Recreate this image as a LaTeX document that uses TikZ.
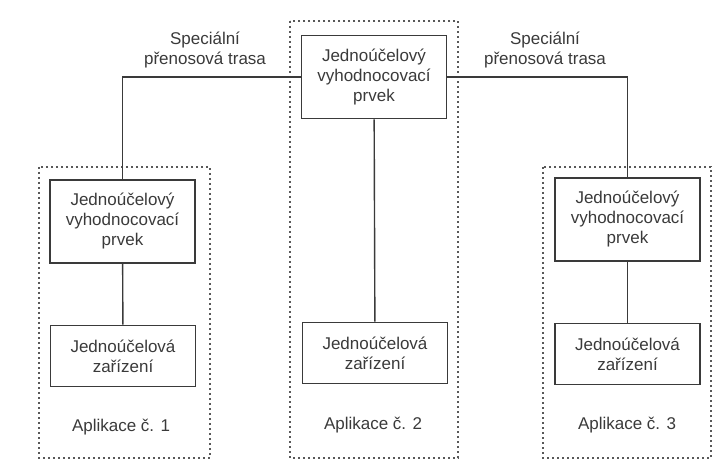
\documentclass[tikz,border=0pt]{standalone}
\usepackage{fontspec}
\setmainfont{Liberation Sans}
\usetikzlibrary{positioning}
\definecolor{ink}{HTML}{3A3A3A}
\tikzset{
  prvek/.style={draw=ink, line width=1.8pt, align=center, minimum width=145pt, minimum height=83pt, inner sep=0pt},
  zarizeni/.style={prvek, minimum height=61pt},
  aplikace/.style={draw=ink!85, line width=2pt, dash pattern=on 2pt off 3pt},
  trasa/.style={draw=ink, line width=1.4pt},
  popis/.style={align=center, inner sep=0pt}
}
\begin{document}
\begin{tikzpicture}[x=1pt, y=-1pt, font=\fontsize{17}{20}\selectfont, text=ink]
    \useasboundingbox (0,0) rectangle (718,465);
    % dotted application frames
    \draw[aplikace] (39,167) rectangle (210,458);
    \draw[aplikace] (290,21) rectangle (458,458);
    \draw[aplikace] (543,167) rectangle (711,458);
    % evaluation elements
    \node[prvek] (stred) at (374,77) {Jednoúčelový\\vyhodnocovací\\prvek};
    \node[prvek] (levy) at (122.5,221.5) {Jednoúčelový\\vyhodnocovací\\prvek};
    \node[prvek] (pravy) at (627.5,219.5) {Jednoúčelový\\vyhodnocovací\\prvek};
    % devices
    \node[zarizeni] (levyZ) at (123,356) {Jednoúčelová\\zařízení};
    \node[zarizeni] (stredZ) at (375,353) {Jednoúčelová\\zařízení};
    \node[zarizeni] (pravyZ) at (627.5,354) {Jednoúčelová\\zařízení};
    % links
    \draw[trasa] (stred.west) -| (levy.north);
    \draw[trasa] (stred.east) -| (pravy.north);
    \draw[trasa] (stred) -- (stredZ);
    \draw[trasa] (levy) -- (levyZ);
    \draw[trasa] (pravy) -- (pravyZ);
    % labels
    \node[popis] (trasaL) at (205,50) {Speciální\\přenosová trasa};
    \node[popis] (trasaP) at (545,50) {Speciální\\přenosová trasa};
    \node[popis] (app1) at (121,427) {Aplikace č. 1};
    \node[popis] (app2) at (373,425) {Aplikace č. 2};
    \node[popis] (app3) at (627,425) {Aplikace č. 3};
\end{tikzpicture}
\end{document}
